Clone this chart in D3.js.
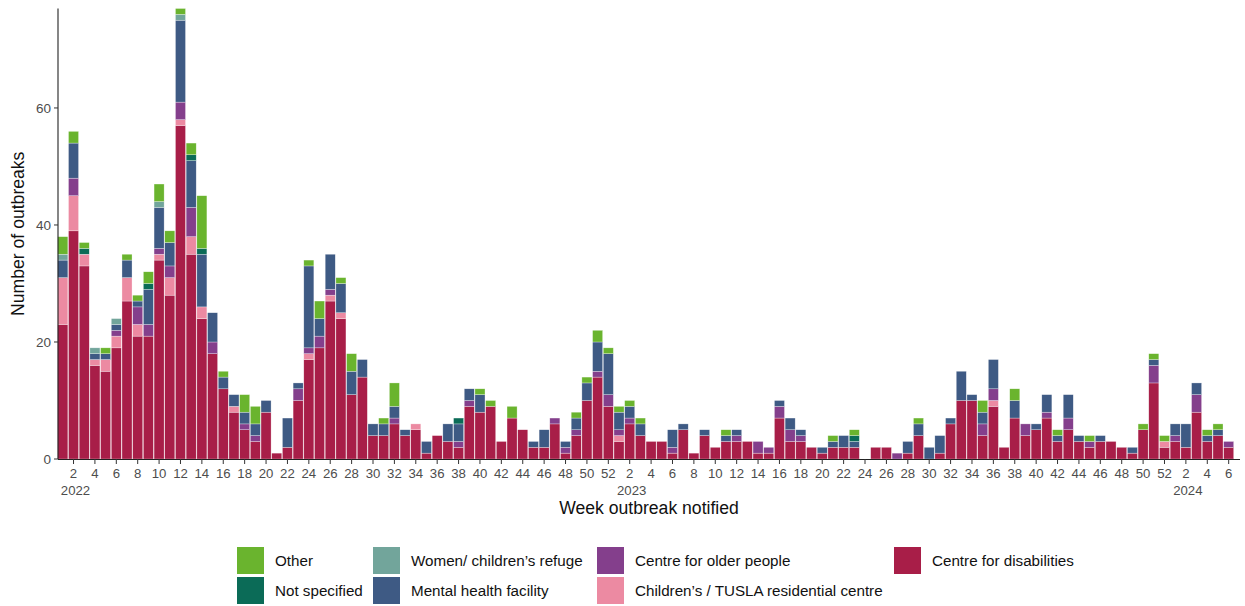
<!DOCTYPE html>
<html>
<head>
<meta charset="utf-8">
<script src="https://cdn.jsdelivr.net/npm/d3@7"></script>
<style>
  body { margin: 0; background: #fff; }
  svg { font-family: "Liberation Sans", Arial, sans-serif; }
</style>
</head>
<body>
<svg id="chart" width="1245" height="606"></svg>
<script>
// weeks: 2022 w1-52, 2023 w1-52, 2024 w1-6
const years = [2022, 2023, 2024];
const weeksInYear = [52, 52, 6];

const disabilities = [
  23,39,33,16,15,19,27,21,21,34, 28,57,35,24,18,12,8,5,3,8, 1,2,10,17,19,27,24,11,14,4, 4,6,4,5,1,4,3,2,9,8, 9,3,7,5,2,2,6,1,4,10, 14,9,
  3,6,4,3,3,1,5,1,4,2, 3,3,3,1,1,7,3,3,2,1, 2,2,2,0,2,2,0,1,4,0, 1,6,10,10,4,9,2,7,4,5, 7,3,5,3,2,3,3,2,1,5, 13,2,
  3,2,8,3,4,2
];
const tusla = [
  8,6,2,1,2,2,4,2,0,1, 3,1,3,2,0,0,1,0,0,0, 0,0,0,1,0,1,1,0,0,0, 0,0,0,1,0,0,0,0,0,0, 0,0,0,0,0,0,0,0,0,0, 0,0,
  1,0,0,0,0,0,0,0,0,0, 0,0,0,0,0,0,0,0,0,0, 0,0,0,0,0,0,0,0,0,0, 0,0,0,0,0,1,0,0,0,0, 0,0,0,0,0,0,0,0,0,0, 0,1,
  0,0,0,0,0,0
];
const olderPeople = [
  0,3,0,0,0,1,0,3,2,1, 2,3,5,0,2,0,0,1,1,0, 0,0,2,1,2,1,0,0,0,0, 0,1,0,0,0,0,0,1,1,0, 0,0,0,0,0,0,1,1,1,0, 1,2,
  1,1,0,0,0,1,0,0,0,0, 0,1,0,2,1,2,2,1,0,0, 0,0,0,0,0,0,1,0,0,0, 0,0,0,0,2,2,0,0,2,0, 1,0,2,0,1,0,0,0,0,0, 3,0,
  1,0,3,0,0,1
];
const mentalHealth = [
  3,6,0,1,1,1,3,1,6,7, 4,14,8,9,5,2,2,2,2,2, 0,5,1,14,3,6,5,4,3,2, 2,2,1,0,2,0,3,3,2,3, 0,0,0,0,1,3,0,1,2,3, 5,7,
  3,2,2,0,0,3,1,0,1,0, 1,1,0,0,0,1,2,1,0,1, 1,2,1,0,0,0,0,2,2,2, 3,1,5,1,2,5,0,3,0,1, 3,1,4,1,0,1,0,0,1,0, 1,0,
  2,4,2,1,1,0
];
const refuge = [
  1,0,0,1,0,1,0,0,0,1, 0,1,0,0,0,0,0,0,0,0, 0,0,0,0,0,0,0,0,0,0, 0,0,0,0,0,0,0,0,0,0, 0,0,0,0,0,0,0,0,0,0, 0,0,
  0,0,0,0,0,0,0,0,0,0, 0,0,0,0,0,0,0,0,0,0, 0,0,0,0,0,0,0,0,0,0, 0,0,0,0,0,0,0,0,0,0, 0,0,0,0,0,0,0,0,0,0, 0,0,
  0,0,0,0,0,0
];
const notSpecified = [
  0,0,1,0,0,0,0,0,1,0, 0,0,1,1,0,0,0,0,0,0, 0,0,0,0,0,0,0,0,0,0, 0,0,0,0,0,0,0,1,0,0, 0,0,0,0,0,0,0,0,0,0, 0,0,
  0,0,0,0,0,0,0,0,0,0, 0,0,0,0,0,0,0,0,0,0, 0,0,1,0,0,0,0,0,0,0, 0,0,0,0,0,0,0,0,0,0, 0,0,0,0,0,0,0,0,0,0, 0,0,
  0,0,0,0,0,0
];
const other = [
  3,2,1,0,1,0,1,1,2,3, 2,1,2,9,0,1,0,3,3,0, 0,0,0,1,3,0,1,3,0,0, 1,4,0,0,0,0,0,0,0,1, 1,0,2,0,0,0,0,0,1,1, 2,1,
  1,1,1,0,0,0,0,0,0,0, 1,0,0,0,0,0,0,0,0,0, 1,0,1,0,0,0,0,0,1,0, 0,0,0,0,2,0,0,2,0,0, 0,1,0,0,1,0,0,0,0,1, 1,1,
  0,0,0,1,1,0
];

const yTicks = [0, 20, 40, 60];

// bottom to top
const series = [
  { key: "disabilities", label: "Centre for disabilities", color: "#a81e48", values: disabilities },
  { key: "tusla", label: "Children\u2019s / TUSLA residential centre", color: "#ec8aa2", values: tusla },
  { key: "older", label: "Centre for older people", color: "#843f8c", values: olderPeople },
  { key: "mental", label: "Mental health facility", color: "#3e5a84", values: mentalHealth },
  { key: "refuge", label: "Women/ children\u2019s refuge", color: "#72a59b", values: refuge },
  { key: "ns", label: "Not specified", color: "#0b6b57", values: notSpecified },
  { key: "other", label: "Other", color: "#6ab42e", values: other }
];

const weeks = [];
years.forEach((yr, yi) => {
  for (let w = 1; w <= weeksInYear[yi]; w++) weeks.push({ id: yr + "-" + w, year: yr, week: w });
});

const rows = weeks.map((wk, i) => {
  const r = { id: wk.id };
  series.forEach(s => r[s.key] = s.values[i]);
  return r;
});

const svg = d3.select("#chart");
const plotLeft = 58, plotRight = 1240, plotTop = 8.5, plotBottom = 459;

const x = d3.scaleBand()
  .domain(weeks.map(d => d.id))
  .range([57.8, 1233.7])
  .paddingInner(0.06);

const y = d3.scaleLinear().domain([0, 77]).range([plotBottom, plotTop]);

const stacked = d3.stack().keys(series.map(s => s.key))(rows);

svg.append("g")
  .selectAll("g")
  .data(stacked)
  .enter().append("g")
  .attr("fill", (d, i) => series[i].color)
  .selectAll("rect")
  .data(d => d.filter(p => p[1] > p[0]))
  .enter().append("rect")
  .attr("x", d => x(d.data.id))
  .attr("width", x.bandwidth())
  .attr("y", d => y(d[1]))
  .attr("height", d => y(d[0]) - y(d[1]))
  .attr("stroke", "#fff")
  .attr("stroke-opacity", 0.6)
  .attr("stroke-width", 0.5);

// y axis
const yAxis = svg.append("g").attr("transform", `translate(${plotLeft},0)`);
yAxis.append("line")
  .attr("x1", 0).attr("x2", 0).attr("y1", plotTop).attr("y2", plotBottom)
  .attr("stroke", "#222").attr("stroke-width", 1.1);
yAxis.selectAll(".ytick")
  .data(yTicks)
  .enter().append("line")
  .attr("x1", -4).attr("x2", 0)
  .attr("y1", d => y(d)).attr("y2", d => y(d))
  .attr("stroke", "#333");
yAxis.selectAll(".ylab")
  .data(yTicks)
  .enter().append("text")
  .attr("x", -7).attr("y", d => y(d))
  .attr("dy", "0.35em")
  .attr("text-anchor", "end")
  .attr("font-size", 13.5)
  .attr("fill", "#4d4d4d")
  .text(d => d);

// x axis
const xAxis = svg.append("g").attr("transform", `translate(0,${plotBottom})`);
xAxis.append("line")
  .attr("x1", plotLeft).attr("x2", plotRight).attr("y1", 0.5).attr("y2", 0.5)
  .attr("stroke", "#222").attr("stroke-width", 1.1);
const tickWeeks = weeks.filter(d => d.week % 2 === 0);
xAxis.selectAll(".xtick")
  .data(tickWeeks)
  .enter().append("line")
  .attr("x1", d => x(d.id) + x.bandwidth() / 2)
  .attr("x2", d => x(d.id) + x.bandwidth() / 2)
  .attr("y1", 0).attr("y2", 5)
  .attr("stroke", "#333");
xAxis.selectAll(".xlab")
  .data(tickWeeks)
  .enter().append("text")
  .attr("x", d => x(d.id) + x.bandwidth() / 2)
  .attr("y", 18.5)
  .attr("text-anchor", "middle")
  .attr("font-size", 13.2)
  .attr("fill", "#4d4d4d")
  .text(d => d.week);
xAxis.selectAll(".yearlab")
  .data(weeks.filter(d => d.week === 2))
  .enter().append("text")
  .attr("x", d => x(d.id) + x.bandwidth() / 2 + 2)
  .attr("y", 35.5)
  .attr("text-anchor", "middle")
  .attr("font-size", 13.2)
  .attr("fill", "#4d4d4d")
  .text(d => d.year);

// titles
svg.append("text")
  .attr("x", (plotLeft + plotRight) / 2).attr("y", 514)
  .attr("text-anchor", "middle")
  .attr("font-size", 17.6)
  .attr("fill", "#111")
  .text("Week outbreak notified");
svg.append("text")
  .attr("transform", `translate(24,${(plotTop + plotBottom) / 2}) rotate(-90)`)
  .attr("text-anchor", "middle")
  .attr("font-size", 17.6)
  .attr("fill", "#111")
  .text("Number of outbreaks");

// legend
const legendOrder = [
  { s: "other", col: 0, row: 0 }, { s: "ns", col: 0, row: 1 },
  { s: "refuge", col: 1, row: 0 }, { s: "mental", col: 1, row: 1 },
  { s: "older", col: 2, row: 0 }, { s: "tusla", col: 2, row: 1 },
  { s: "disabilities", col: 3, row: 0 }
];
const colX = [237, 373, 597, 894];
const legend = svg.append("g");
legendOrder.forEach(item => {
  const s = series.find(d => d.key === item.s);
  const gx = colX[item.col], gy = 547 + item.row * 30;
  legend.append("rect")
    .attr("x", gx).attr("y", gy)
    .attr("width", 27).attr("height", 27)
    .attr("fill", s.color);
  legend.append("text")
    .attr("x", gx + 38).attr("y", gy + 13.5)
    .attr("dy", "0.35em")
    .attr("font-size", 15.2)
    .attr("fill", "#111")
    .text(s.label);
});
</script>
</body>
</html>
